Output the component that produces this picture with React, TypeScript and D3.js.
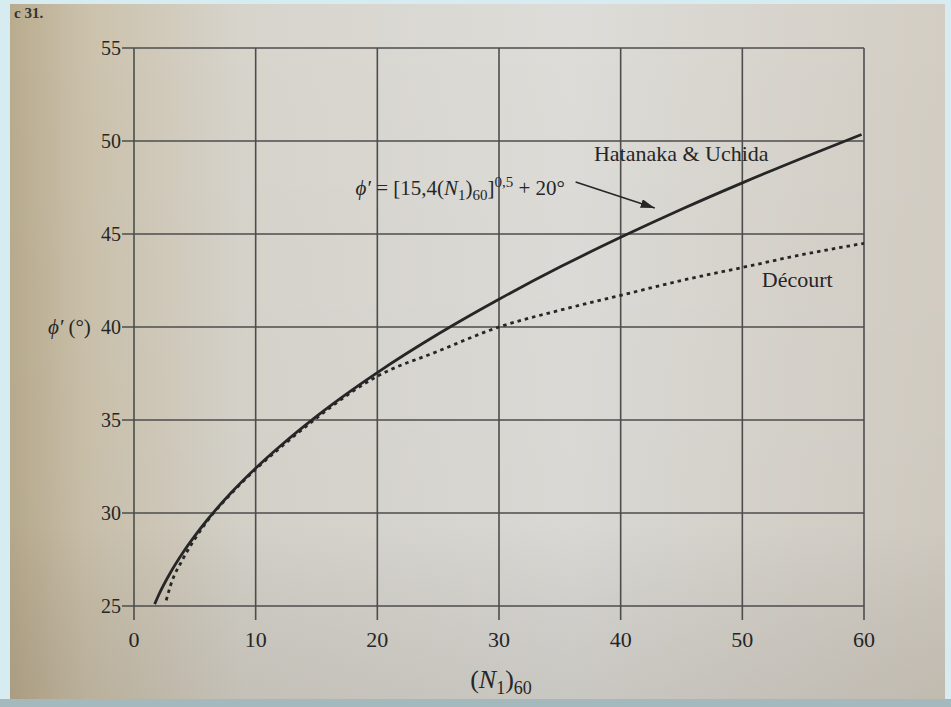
import React from "react";
import * as d3 from "d3";

const xTicks = [0, 10, 20, 30, 40, 50, 60];
const yTicks = [25, 30, 35, 40, 45, 50, 55];

// Hatanaka & Uchida curve
const hatanakaN = [1.7, 2, 3, 4, 5, 6, 8, 10, 12, 15, 18, 20, 25, 30, 35, 40, 45, 50, 55, 59.8];
const hatanakaPhi = [25.1, 25.55, 26.8, 27.85, 28.77, 29.61, 31.1, 32.41, 33.59, 35.2, 36.65, 37.55, 39.62, 41.49, 43.22, 44.82, 46.33, 47.75, 49.1, 50.35];

// Décourt curve
const decourtN = [2.65, 3, 4, 5, 6, 8, 10, 12, 15, 18, 20, 25, 30, 35, 40, 45, 50, 55, 60];
const decourtPhi = [25.3, 26.1, 27.5, 28.6, 29.55, 31.05, 32.35, 33.5, 35.1, 36.55, 37.35, 38.7, 40.0, 40.9, 41.7, 42.5, 43.2, 43.9, 44.5];

const W = 951;
const H = 707;
const left = 134;
const right = 864;
const top = 48;
const bottom = 606;

export default function App() {
  const x = d3.scaleLinear().domain([0, 60]).range([left, right]);
  const y = d3.scaleLinear().domain([25, 55]).range([bottom, top]);
  const line = d3
    .line<[number, number]>()
    .x((d) => x(d[0]))
    .y((d) => y(d[1]))
    .curve(d3.curveMonotoneX);
  const hData = hatanakaN.map((n, i) => [n, hatanakaPhi[i]] as [number, number]);
  const dData = decourtN.map((n, i) => [n, decourtPhi[i]] as [number, number]);
  const ink = "#262626";
  const grid = "#4d4d4d";
  const font = "'Liberation Serif', 'Times New Roman', serif";

  return (
    <svg
      width={W}
      height={H}
      style={{ position: "absolute", left: 0, top: 0, display: "block" }}
      fontFamily={font}
    >
      <defs>
        <linearGradient id="paper" x1="0" x2="1" y1="0" y2="0">
          <stop offset="0" stopColor="#b9ab8e" />
          <stop offset="0.08" stopColor="#cbc1ab" />
          <stop offset="0.25" stopColor="#d7d4cc" />
          <stop offset="0.6" stopColor="#dddcd8" />
          <stop offset="1" stopColor="#d3cdc3" />
        </linearGradient>
        <linearGradient id="shade" x1="0" x2="0" y1="0" y2="1">
          <stop offset="0" stopColor="#000" stopOpacity="0" />
          <stop offset="0.75" stopColor="#000" stopOpacity="0.02" />
          <stop offset="1" stopColor="#3a3020" stopOpacity="0.12" />
        </linearGradient>
        <marker id="arr" viewBox="0 0 14 9" refX="14" refY="4.5" markerWidth="14" markerHeight="9" orient="auto" markerUnits="userSpaceOnUse">
          <path d="M0,0 L14,4.5 L0,9 Z" fill={ink} />
        </marker>
      </defs>
      <rect x={0} y={0} width={W} height={H} fill="#d6ecf0" />
      <rect x={0} y={H - 8} width={W} height={8} fill="#a3b9bd" />
      <rect x={10} y={4} width={W - 16} height={H - 12} fill="url(#paper)" />
      <rect x={10} y={4} width={W - 16} height={H - 12} fill="url(#shade)" />
      <text x={14} y={18} fontSize={15} fontWeight="bold" fill="#333">c 31.</text>

      {/* grid */}
      {xTicks.map((t) => (
        <line key={"gx" + t} x1={x(t)} x2={x(t)} y1={top} y2={bottom + 14} stroke={grid} strokeWidth={1.6} />
      ))}
      {yTicks.map((t) => (
        <line key={"gy" + t} x1={left - 12} x2={right} y1={y(t)} y2={y(t)} stroke={grid} strokeWidth={1.6} />
      ))}

      {/* tick labels */}
      {xTicks.map((t) => (
        <text key={"tx" + t} x={x(t)} y={bottom + 41} fontSize={22} textAnchor="middle" fill={ink}>
          {t}
        </text>
      ))}
      {yTicks.map((t) => (
        <text key={"ty" + t} x={left - 13} y={y(t) + 7} fontSize={20} textAnchor="end" fill={ink}>
          {t}
        </text>
      ))}

      {/* axis titles */}
      <text x={48} y={y(40) + 7} fontSize={21} fill={ink}>
        <tspan fontStyle="italic">ϕ′</tspan>
        <tspan dx={5}>(°)</tspan>
      </text>
      <text x={x(30) + 2} y={bottom + 82} fontSize={26} textAnchor="middle" fill={ink}>
        (<tspan fontStyle="italic">N</tspan>
        <tspan fontSize={18} dy={6}>1</tspan>
        <tspan dy={-6}>)</tspan>
        <tspan fontSize={18} dy={6}>60</tspan>
      </text>

      {/* curves */}
      <path d={line(dData) || ""} fill="none" stroke={ink} strokeWidth={2.8} strokeDasharray="3.5,4" />
      <path d={line(hData) || ""} fill="none" stroke={ink} strokeWidth={2.8} />

      {/* annotations */}
      <text x={x(37.8)} y={y(48.9)} fontSize={22} fill={ink}>Hatanaka &amp; Uchida</text>
      <text x={x(51.6)} y={y(42.15)} fontSize={22} fill={ink}>Décourt</text>
      <text x={x(18.2)} y={y(47.1)} fontSize={21} fill={ink}>
        <tspan fontStyle="italic">ϕ′</tspan>
        <tspan> = [15,4(</tspan>
        <tspan fontStyle="italic">N</tspan>
        <tspan fontSize={15} dy={5}>1</tspan>
        <tspan dy={-5}>)</tspan>
        <tspan fontSize={15} dy={5}>60</tspan>
        <tspan dy={-5}>]</tspan>
        <tspan fontSize={15} dy={-8}>0,5</tspan>
        <tspan dy={8}> + 20°</tspan>
      </text>
      <line x1={x(36.3)} y1={y(47.8)} x2={x(42.8)} y2={y(46.4)} stroke={ink} strokeWidth={1.6} markerEnd="url(#arr)" />
    </svg>
  );
}
